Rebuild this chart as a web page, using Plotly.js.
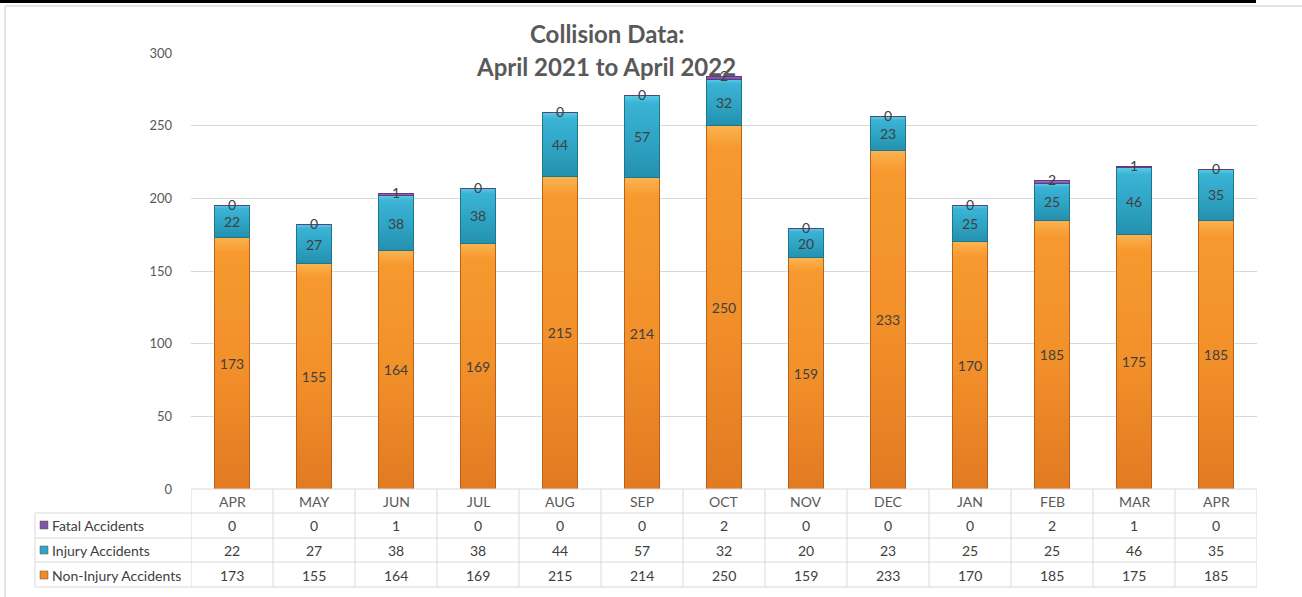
<!DOCTYPE html>
<html><head><meta charset="utf-8">
<script src="https://cdn.plot.ly/plotly-3.0.1.min.js"></script>
<style>html,body{margin:0;padding:0;background:#fff;}#chart{width:1302px;height:597px;}</style>
</head><body><div id="chart"></div>
<script>
const months = ["APR","MAY","JUN","JUL","AUG","SEP","OCT","NOV","DEC","JAN","FEB","MAR","APR"];
const fatal = [0,0,1,0,0,0,2,0,0,0,2,1,0];
const injury = [22,27,38,38,44,57,32,20,23,25,25,46,35];
const nonInjury = [173,155,164,169,215,214,250,159,233,170,185,175,185];
const seriesNames = ["Fatal Accidents","Injury Accidents","Non-Injury Accidents"];

const W=1302,H=597,L=191,R=1257,T=53,B=489;
const px = p => (p-L)/(R-L);
const py = p => (B-p)/(B-T);
const xs = months.map((m,i)=>i);
const FONT = "Lato, 'Open Sans', sans-serif";
const txtCol = "#404040";

const traces = [
  {type:'bar', name:seriesNames[2], x:xs, y:nonInjury, text:nonInjury.map(String),
   textposition:'inside', insidetextanchor:'middle', textangle:0, constraintext:'none',
   textfont:{family:FONT,size:14,color:txtCol},
   marker:{color:'#F28B26', line:{color:'#B9611A', width:1}}, width:0.42, hoverinfo:'y'},
  {type:'bar', name:seriesNames[1], x:xs, y:injury, text:injury.map(String),
   textposition:'inside', insidetextanchor:'middle', textangle:0, constraintext:'none',
   textfont:{family:FONT,size:14,color:txtCol},
   marker:{color:'#2FA5C6', line:{color:'#1D7690', width:1}}, width:0.42, hoverinfo:'y'},
  {type:'bar', name:seriesNames[0], x:xs, y:fatal,
   marker:{color:'#7E57A6', line:{color:'#5E3C82', width:1}}, width:0.42, hoverinfo:'y'}
];

const shapes = [];
const ann = [];
const gridC = '#D9D9D9';
function line(x0,y0,x1,y1,c,w){shapes.push({type:'line',xref:'paper',yref:'paper',x0:px(x0),y0:py(y0),x1:px(x1),y1:py(y1),line:{color:c,width:w||1},layer:'above'});}

// frame
shapes.push({type:'rect',xref:'paper',yref:'paper',x0:px(0),x1:px(1256),y0:py(0),y1:py(3),fillcolor:'#000',line:{width:0}});
line(5,6,1302,6,'#E3E3E3',2);
line(5,6,5,597,'#E3E3E3',2);

// table
const rowY = [513,538,562,587];
line(L,B,R,B,gridC,1);
rowY.forEach(y=>line(35,y,R,y,gridC,1));
line(35,513,35,587,gridC,1);
for(let i=0;i<=months.length;i++){
  shapes.push({type:'line',xref:'x',yref:'paper',x0:i-0.5,x1:i-0.5,y0:py(489),y1:py(587),line:{color:gridC,width:1}});
}
months.forEach((m,i)=>ann.push({xref:'x',yref:'paper',x:i,y:py(501),text:m,showarrow:false,font:{family:FONT,size:14,color:'#595959'},yanchor:'middle'}));
const rows = [[fatal,525,'#7E57A6'],[injury,550,'#2FA5C6'],[nonInjury,575,'#F28B26']];
rows.forEach((r,k)=>{
  r[0].forEach((v,i)=>ann.push({xref:'x',yref:'paper',x:i,y:py(r[1]),text:String(v),showarrow:false,font:{family:FONT,size:14,color:'#404040'},yanchor:'middle'}));
  ann.push({xref:'paper',yref:'paper',x:px(50),y:py(r[1]),text:seriesNames[k],showarrow:false,xanchor:'left',yanchor:'middle',font:{family:FONT,size:14,color:'#404040'}});
  shapes.push({type:'rect',xref:'paper',yref:'paper',x0:px(40),x1:px(48),y0:py(r[1]-4),y1:py(r[1]+4),fillcolor:r[2],line:{color:'#555',width:0.5}});
});

// fatal labels at bar top
xs.forEach(i=>ann.push({xref:'x',yref:'y',x:i,y:nonInjury[i]+injury[i]+fatal[i],text:String(fatal[i]),showarrow:false,yanchor:'middle',yshift:1,font:{family:FONT,size:14,color:txtCol}}));

// title
ann.push({xref:'paper',yref:'paper',x:px(607),y:py(34),text:'<b>Collision Data:</b>',showarrow:false,yanchor:'middle',font:{family:FONT,size:24,color:'#595959'}});
ann.push({xref:'paper',yref:'paper',x:px(606),y:py(66),text:'<b>April 2021 to April 2022</b>',showarrow:false,yanchor:'middle',font:{family:FONT,size:24,color:'#595959'}});

const layout = {
  width:W,height:H,margin:{l:L,r:W-R,t:T,b:H-B},
  paper_bgcolor:'#fff',plot_bgcolor:'#fff',
  barmode:'stack',bargap:0.5,showlegend:false,
  xaxis:{range:[-0.5,12.5],showticklabels:false,showgrid:false,zeroline:false,showline:false,fixedrange:true},
  yaxis:{range:[0,300],tickvals:[0,50,100,150,200,250,300],showgrid:true,gridcolor:gridC,gridwidth:1,zeroline:false,
         showline:false,ticks:'',ticklabelstandoff:18,tickfont:{family:FONT,size:13,color:'#595959'}},
  shapes:shapes,annotations:ann,
  font:{family:FONT}
};
Plotly.newPlot('chart',traces,layout,{staticPlot:true}).then(gd=>{
  try{
    const svg = gd.querySelector('.main-svg');
    const NS='http://www.w3.org/2000/svg';
    let defs = svg.querySelector('defs');
    if(!defs){defs=document.createElementNS(NS,'defs');svg.insertBefore(defs,svg.firstChild);}
    const grads = [
      ['gOrange',[[0,'#FBB450'],[0.06,'#F7992F'],[0.5,'#F2902A'],[1,'#E27A22']]],
      ['gTeal',[[0,'#5CCBE6'],[0.1,'#3BB3D4'],[0.5,'#30A6C7'],[1,'#2490AE']]],
      ['gPurple',[[0,'#9A74C2'],[1,'#6E4896']]]
    ];
    grads.forEach(([id,stops])=>{
      const g=document.createElementNS(NS,'linearGradient');
      g.setAttribute('id',id);g.setAttribute('x1','0');g.setAttribute('y1','0');g.setAttribute('x2','0');g.setAttribute('y2','1');
      stops.forEach(([o,c])=>{const s=document.createElementNS(NS,'stop');s.setAttribute('offset',o);s.setAttribute('stop-color',c);g.appendChild(s);});
      defs.appendChild(g);
    });
    const ids=['gOrange','gTeal','gPurple'];
    gd.querySelectorAll('.barlayer .trace').forEach((t,k)=>{
      t.querySelectorAll('.point path').forEach(p=>{p.style.fill='url(#'+ids[k]+')';});
    });
  }catch(e){}
});
</script></body></html>
